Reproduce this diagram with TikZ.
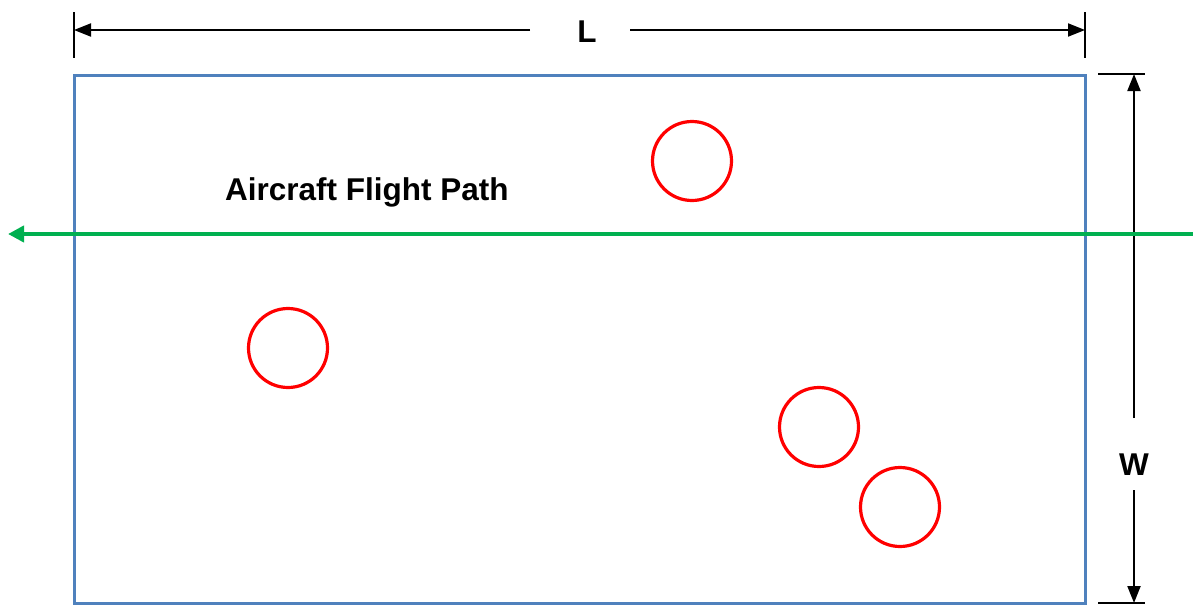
\documentclass[tikz,border=0pt]{standalone}
\usepackage{fontspec}
\setmainfont{Liberation Sans}
\usetikzlibrary{arrows.meta}
\definecolor{rectblue}{HTML}{4F81BD}
\definecolor{pathgreen}{HTML}{00B050}
\tikzset{
  dimline/.style={draw=black, line width=2pt, -{Triangle[length=17pt,width=13pt]}},
  tickline/.style={draw=black, line width=2pt},
  target/.style={circle, draw=red, line width=3.2pt, minimum size=79pt, inner sep=0pt},
  lbl/.style={font=\fontsize{31.5}{36}\selectfont\bfseries, inner sep=0pt},
}
\begin{document}
\begin{tikzpicture}[x=1pt,y=-1pt]
\useasboundingbox (0,0) rectangle (1193,605);
% area
\draw[rectblue, line width=3pt] (74,75) rectangle (1085,603);
% L dimension
\coordinate (Lt1) at (74,12); \coordinate (Lb1) at (74,58);
\coordinate (Lt2) at (1085,12); \coordinate (Lb2) at (1085,58);
\draw[tickline] (Lt1) -- (Lb1);
\draw[tickline] (Lt2) -- (Lb2);
\node[lbl] (L) at (587,32) {L};
\coordinate (La) at (74,30); \coordinate (Lb) at (1085,30);
\coordinate (Lm1) at (530,30); \coordinate (Lm2) at (630,30);
\draw[dimline] (Lm1) -- (La);
\draw[dimline] (Lm2) -- (Lb);
% W dimension
\coordinate (Wt1) at (1098,74); \coordinate (Wt2) at (1145,74);
\coordinate (Wb1) at (1098,603); \coordinate (Wb2) at (1145,603);
\draw[tickline] (Wt1) -- (Wt2);
\draw[tickline] (Wb1) -- (Wb2);
\node[lbl] (W) at (1134,465) {W};
\coordinate (Wa) at (1134,74); \coordinate (Wb) at (1134,603);
\coordinate (Wm1) at (1134,418); \coordinate (Wm2) at (1134,490);
\draw[dimline] (Wm1) -- (Wa);
\draw[dimline] (Wm2) -- (Wb);
% flight path
\coordinate (Fs) at (1193,234); \coordinate (Fe) at (8,234);
\draw[pathgreen, line width=4pt, -{Triangle[length=16pt,width=16pt]}] (Fs) -- (Fe);
\node[lbl, anchor=west] (fp) at (225,192) {Aircraft Flight Path};
% targets
\node[target] (c1) at (692,161) {};
\node[target] (c2) at (288,348) {};
\node[target] (c3) at (819,427) {};
\node[target] (c4) at (900,507) {};
\end{tikzpicture}
\end{document}
